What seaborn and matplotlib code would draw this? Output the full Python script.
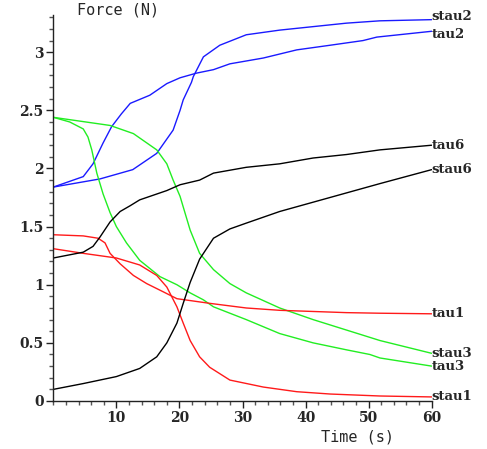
import numpy as np
import pandas as pd
import matplotlib
matplotlib.use("Agg")
import matplotlib.pyplot as plt
from matplotlib.ticker import MultipleLocator, FixedLocator, FuncFormatter
import seaborn as sns

# ---- data ----
t_stau2 = [0, 7.4, 12.6, 16.4, 19.0, 20.1, 20.6, 21.9, 22.2, 23.8, 26.4, 30.6, 35.9, 41.2, 46.5, 51.8, 60]
v_stau2 = [1.84, 1.91, 1.99, 2.13, 2.33, 2.50, 2.59, 2.74, 2.79, 2.96, 3.06, 3.15, 3.19, 3.22, 3.25, 3.27, 3.28]

t_tau2 = [0, 4.75, 6.3, 7.9, 9.25, 10.8, 12.2, 15.3, 18.0, 20.1, 22.7, 25.4, 28.0, 33.3, 38.6, 43.9, 49.1, 51.3, 60]
v_tau2 = [1.84, 1.93, 2.04, 2.22, 2.36, 2.47, 2.56, 2.63, 2.73, 2.78, 2.82, 2.85, 2.90, 2.95, 3.02, 3.06, 3.10, 3.13, 3.18]

t_stau3 = [0, 9.0, 12.7, 16.4, 18.0, 19.0, 20.1, 21.7, 23.2, 25.4, 28.0, 30.6, 35.9, 41.2, 46.5, 51.8, 60]
v_stau3 = [2.44, 2.37, 2.30, 2.16, 2.04, 1.90, 1.76, 1.47, 1.27, 1.13, 1.01, 0.93, 0.80, 0.70, 0.61, 0.52, 0.41]

t_tau3 = [0, 2.6, 4.75, 5.5, 6.1, 6.9, 7.9, 9.0, 10.0, 11.6, 13.7, 16.9, 19.6, 21.7, 23.8, 25.4, 30.6, 35.9, 41.2, 46.5, 50.2, 51.8, 60]
v_tau3 = [2.44, 2.40, 2.34, 2.27, 2.16, 1.96, 1.78, 1.62, 1.50, 1.36, 1.21, 1.07, 1.00, 0.93, 0.87, 0.81, 0.70, 0.58, 0.50, 0.44, 0.40, 0.37, 0.30]

t_stau1 = [0, 4.75, 10.0, 13.7, 16.4, 18.0, 19.6, 20.6, 21.7, 23.2, 24.8, 28.0, 33.3, 38.6, 43.9, 51.8, 60]
v_stau1 = [1.31, 1.27, 1.23, 1.17, 1.08, 0.98, 0.81, 0.67, 0.52, 0.38, 0.29, 0.18, 0.12, 0.08, 0.06, 0.043, 0.035]

t_tau1 = [0, 4.75, 7.1, 8.2, 9.0, 10.6, 12.7, 14.8, 17.4, 19.6, 24.8, 30.6, 35.9, 41.2, 46.5, 51.8, 60]
v_tau1 = [1.43, 1.42, 1.40, 1.36, 1.27, 1.18, 1.08, 1.01, 0.94, 0.88, 0.84, 0.80, 0.78, 0.77, 0.76, 0.755, 0.75]

t_stau6 = [0, 4.75, 10.0, 13.7, 16.4, 18.0, 19.6, 20.6, 21.7, 23.2, 25.4, 28.0, 30.6, 35.9, 41.2, 46.5, 51.8, 60]
v_stau6 = [0.10, 0.15, 0.21, 0.28, 0.38, 0.50, 0.67, 0.84, 1.02, 1.22, 1.40, 1.48, 1.53, 1.63, 1.71, 1.79, 1.87, 1.99]

t_tau6 = [0, 4.75, 6.3, 7.4, 9.0, 10.6, 12.2, 13.7, 18.0, 20.1, 23.2, 25.4, 30.6, 35.9, 41.2, 46.5, 51.8, 60]
v_tau6 = [1.23, 1.28, 1.33, 1.41, 1.54, 1.63, 1.68, 1.73, 1.81, 1.86, 1.90, 1.96, 2.01, 2.04, 2.09, 2.12, 2.16, 2.20]

series = {
    "stau2": (t_stau2, v_stau2), "tau2": (t_tau2, v_tau2),
    "stau3": (t_stau3, v_stau3), "tau3": (t_tau3, v_tau3),
    "stau1": (t_stau1, v_stau1), "tau1": (t_tau1, v_tau1),
    "stau6": (t_stau6, v_stau6), "tau6": (t_tau6, v_tau6),
}
colors = {"stau2": "#1a1aff", "tau2": "#1a1aff", "stau3": "#22ee22", "tau3": "#22ee22",
          "stau1": "#ff1a1a", "tau1": "#ff1a1a", "stau6": "#000000", "tau6": "#000000"}
label_nudge = {"stau2": 2.5, "tau2": -2.0}

x_ticks = [10, 20, 30, 40, 50, 60]
y_ticks = [0, 0.5, 1, 1.5, 2, 2.5, 3]

rows = []
for name, (ts, vs) in series.items():
    for t, v in zip(ts, vs):
        rows.append((name, t, v))
df = pd.DataFrame(rows, columns=["series", "t", "v"])

sns.set_style("ticks")
fig = plt.figure(figsize=(4.87, 4.49), dpi=100)
ax = fig.add_axes([53.3 / 487, 48 / 449, (431.7 - 53.3) / 487, (401 - 15) / 449])

sns.lineplot(data=df, x="t", y="v", hue="series", palette=colors, estimator=None,
             sort=True, linewidth=1.0, legend=False, ax=ax)

for name, (ts, vs) in series.items():
    ax.annotate(name, (ts[-1], vs[-1]), xytext=(0, label_nudge.get(name, 0)),
                textcoords="offset points", ha="left", va="center", fontsize=9.5,
                family="DejaVu Serif", fontweight="bold", annotation_clip=False)

ax.set_xlim(0, 60)
ax.set_ylim(0, 3.32)
ax.set_xlabel("")
ax.set_ylabel("")
ax.xaxis.set_major_locator(FixedLocator(x_ticks))
ax.xaxis.set_minor_locator(MultipleLocator(2))
ax.yaxis.set_major_locator(FixedLocator(y_ticks))
ax.yaxis.set_minor_locator(MultipleLocator(0.1))
ax.yaxis.set_major_formatter(FuncFormatter(lambda v, p: f"{v:g}"))
ax.xaxis.set_major_formatter(FuncFormatter(lambda v, p: f"{v:g}"))
ax.tick_params(which="major", length=5, width=1, color="#222222", pad=2)
ax.tick_params(which="minor", length=3, width=1, color="#555555")
for lab in ax.get_xticklabels() + ax.get_yticklabels():
    lab.set_family("DejaVu Serif")
    lab.set_fontweight("bold")
    lab.set_fontsize(10)
for s in ["top", "right"]:
    ax.spines[s].set_visible(False)
for s in ["left", "bottom"]:
    ax.spines[s].set_linewidth(1)
    ax.spines[s].set_color("#222222")

fig.text(118 / 487, 1 - 10 / 449, "Force (N)", ha="center", va="center",
         family="DejaVu Sans Mono", fontsize=11)
fig.text(357.5 / 487, 1 - 437 / 449, "Time (s)", ha="center", va="center",
         family="DejaVu Sans Mono", fontsize=11)

fig.savefig("out.png", dpi=100)
